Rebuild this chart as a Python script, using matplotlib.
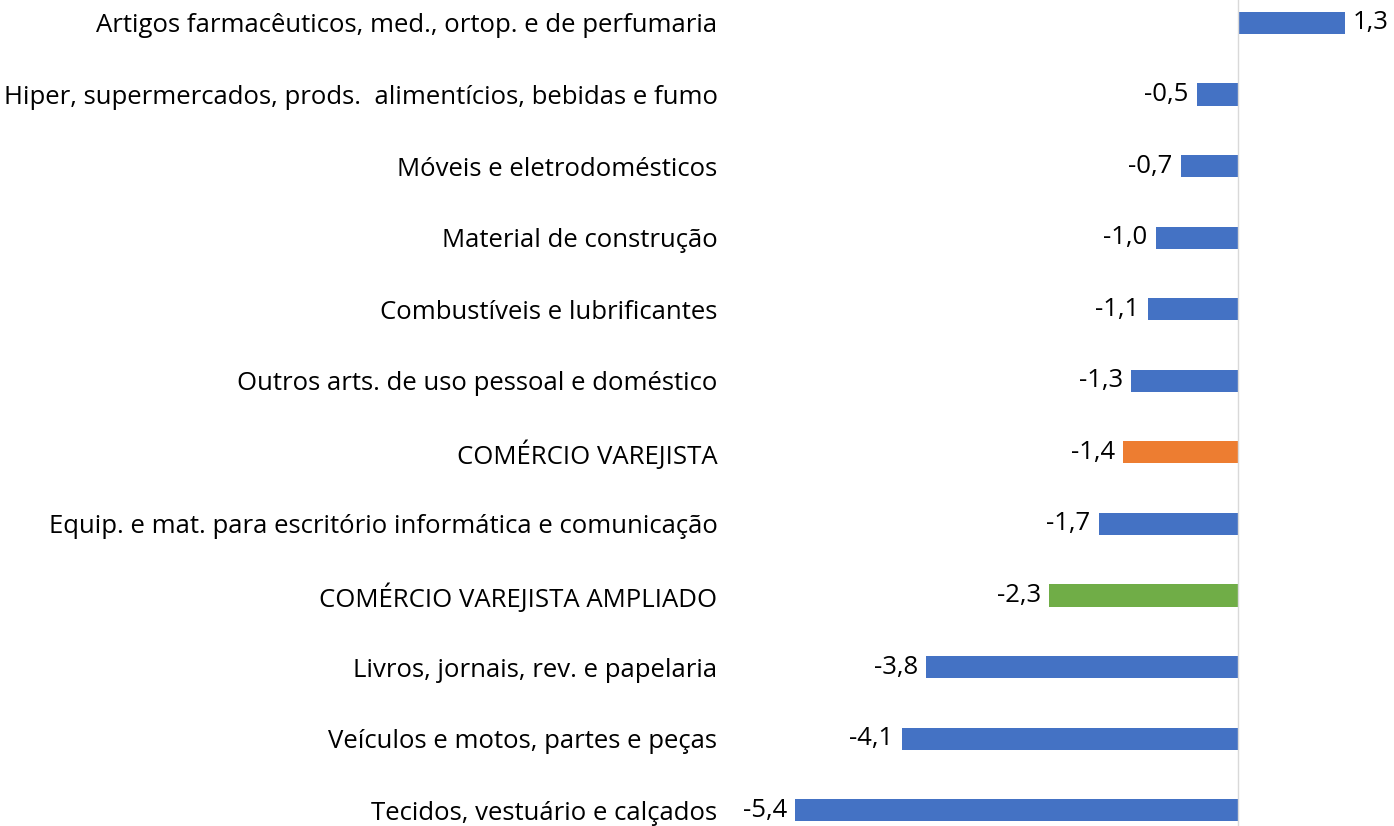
import matplotlib
matplotlib.use('Agg')

import matplotlib.pyplot as plt

categorias = ["Artigos farmacêuticos, med., ortop. e de perfumaria",
              "Hiper, supermercados, prods.  alimentícios, bebidas e fumo",
              "Móveis e eletrodomésticos",
              "Material de construção",
              "Combustíveis e lubrificantes",
              "Outros arts. de uso pessoal e doméstico",
              "COMÉRCIO VAREJISTA",
              "Equip. e mat. para escritório informática e comunicação",
              "COMÉRCIO VAREJISTA AMPLIADO",
              "Livros, jornais, rev. e papelaria",
              "Veículos e motos, partes e peças",
              "Tecidos, vestuário e calçados"]
valores = [1.3, -0.5, -0.7, -1.0, -1.1, -1.3, -1.4, -1.7, -2.3, -3.8, -4.1, -5.4]
cores = ["#4472C4"] * 6 + ["#ED7D31", "#4472C4", "#70AD47"] + ["#4472C4"] * 3

plt.rcParams['font.family'] = ['Open Sans', 'DejaVu Sans']

fig = plt.figure(figsize=(13.94, 8.26), dpi=100)
ax = fig.add_axes([730 / 1394, 0, 664 / 1394, 1])

pos = list(range(len(categorias)))
barras = ax.barh(pos, valores, height=0.31, color=cores)
rotulos = [("%.1f" % v).replace(".", ",") for v in valores]
ax.bar_label(barras, labels=rotulos, padding=6, fontsize=18.5)

ax.axvline(0, color="#D9D9D9", linewidth=1)
ax.set_xlim(-6.195, 1.902)
ax.set_ylim(11.22, -0.32)
ax.set_yticks(pos)
ax.set_yticklabels(categorias, fontsize=18.5)
ax.tick_params(axis="y", length=0, pad=9)
ax.set_xticks([])
for s in ax.spines.values():
    s.set_visible(False)

fig.savefig("out.png", dpi=100)
